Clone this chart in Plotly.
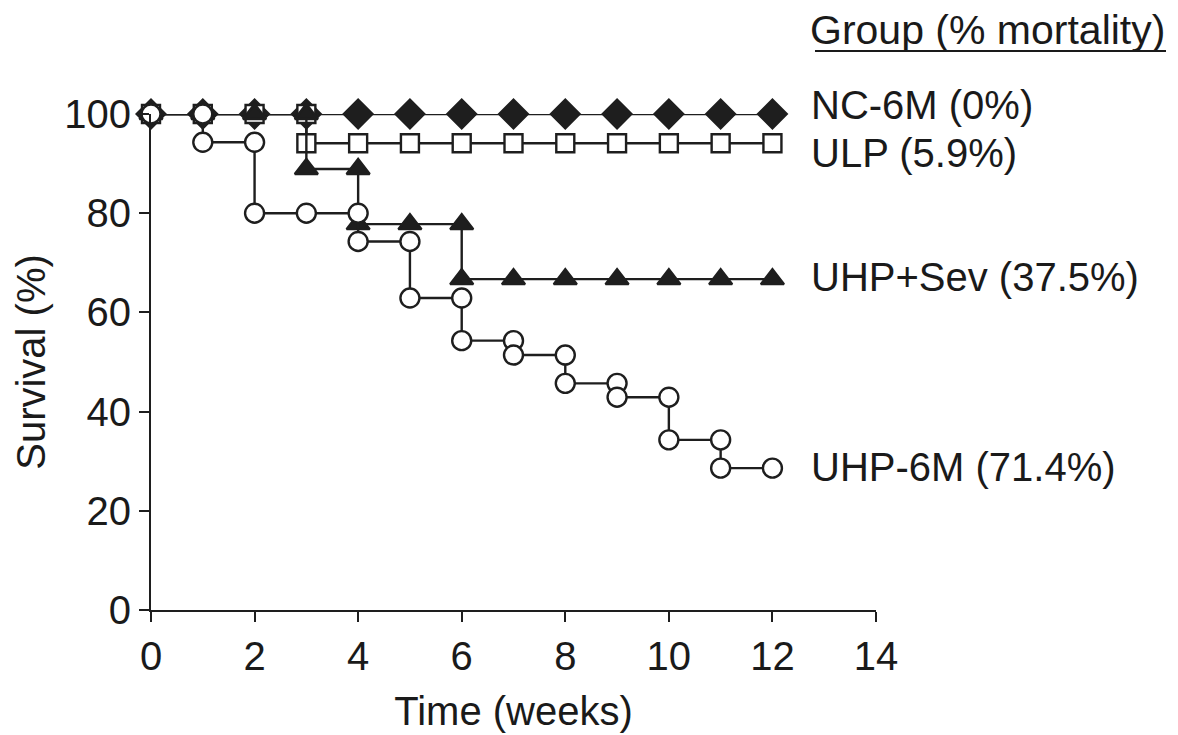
import plotly.graph_objects as go

# ---- data ----
nc_weeks = [0, 1, 2, 3, 4, 5, 6, 7, 8, 9, 10, 11, 12]
nc_surv = [100, 100, 100, 100, 100, 100, 100, 100, 100, 100, 100, 100, 100]

ulp_weeks = [0, 1, 2, 3, 3, 4, 5, 6, 7, 8, 9, 10, 11, 12]
ulp_surv = [100, 100, 100, 100, 94.1, 94.1, 94.1, 94.1, 94.1, 94.1, 94.1, 94.1, 94.1, 94.1]

sev_weeks = [0, 1, 2, 3, 3, 4, 4, 5, 6, 6, 7, 8, 9, 10, 11, 12]
sev_surv = [100, 100, 100, 100, 88.9, 88.9, 77.8, 77.8, 77.8, 66.7, 66.7, 66.7, 66.7, 66.7, 66.7, 66.7]

uhp_weeks = [0, 1, 1, 2, 2, 3, 4, 4, 5, 5, 6, 6, 7, 7, 8, 8, 9, 9, 10, 10, 11, 11, 12]
uhp_surv = [100, 100, 94.3, 94.3, 80, 80, 80, 74.3, 74.3, 62.9, 62.9, 54.3, 54.3, 51.4,
            51.4, 45.7, 45.7, 42.9, 42.9, 34.3, 34.3, 28.6, 28.6]

group_labels = ["NC-6M (0%)", "ULP (5.9%)", "UHP+Sev (37.5%)", "UHP-6M (71.4%)"]
label_y = [101.8, 92.2, 67.2, 28.8]
header = "Group (% mortality)"

x_ticks = [0, 2, 4, 6, 8, 10, 12, 14]
y_ticks = [0, 20, 40, 60, 80, 100]

FONT = "Liberation Sans, Arial, Helvetica, sans-serif"
LC = "#1e1e1e"
TC = "#1a1a1a"

fig = go.Figure()

def add(xs, ys, symbol, fill, size):
    fig.add_trace(go.Scatter(
        x=xs, y=ys, mode="lines+markers",
        line=dict(color=LC, width=2.4),
        marker=dict(symbol=symbol, size=size, color=fill,
                    line=dict(color=LC, width=2.4)),
        cliponaxis=False, showlegend=False))

add(nc_weeks, nc_surv, "diamond", LC, 22)
add(ulp_weeks, ulp_surv, "square", "white", 18)
add(sev_weeks, sev_surv, "triangle-up", LC, 20)
add(uhp_weeks, uhp_surv, "circle", "white", 19)

LX = 12.71 / 14  # paper x of label column
for txt, yy in zip(group_labels, label_y):
    fig.add_annotation(x=LX, y=yy / 100, xref="paper", yref="paper", text=txt,
                       showarrow=False, xanchor="left", yanchor="middle",
                       font=dict(family=FONT, size=40, color=TC))

fig.add_annotation(x=LX, y=1.169, xref="paper", yref="paper", text=header, showarrow=False,
                   xanchor="left", yanchor="middle", borderpad=0,
                   font=dict(family=FONT, size=41, color=TC))
fig.add_shape(type="line", xref="paper", yref="paper", x0=LX + 0.008, x1=1.40,
              y0=1.127, y1=1.127, line=dict(color=TC, width=2))

fig.update_xaxes(range=[0, 14], tickvals=x_ticks, ticks="outside", ticklen=10,
                 tickwidth=2, tickcolor=LC, showline=True, linecolor=LC, linewidth=2,
                 showgrid=False, zeroline=False,
                 tickfont=dict(family=FONT, size=40, color=TC),
                 title=dict(text="Time (weeks)", font=dict(family=FONT, size=40, color=TC),
                            standoff=20))
fig.update_yaxes(range=[0, 100], tickvals=y_ticks, ticks="outside", ticklen=10,
                 tickwidth=2, tickcolor=LC, showline=True, linecolor=LC, linewidth=2,
                 showgrid=False, zeroline=False,
                 tickfont=dict(family=FONT, size=40, color=TC),
                 title=dict(text="Survival (%)", font=dict(family=FONT, size=40, color=TC),
                            standoff=6))

fig.update_layout(width=1178, height=735,
                  margin=dict(l=143, r=310, t=106, b=133, autoexpand=False),
                  paper_bgcolor="white", plot_bgcolor="white")

fig.write_html("out.html")
